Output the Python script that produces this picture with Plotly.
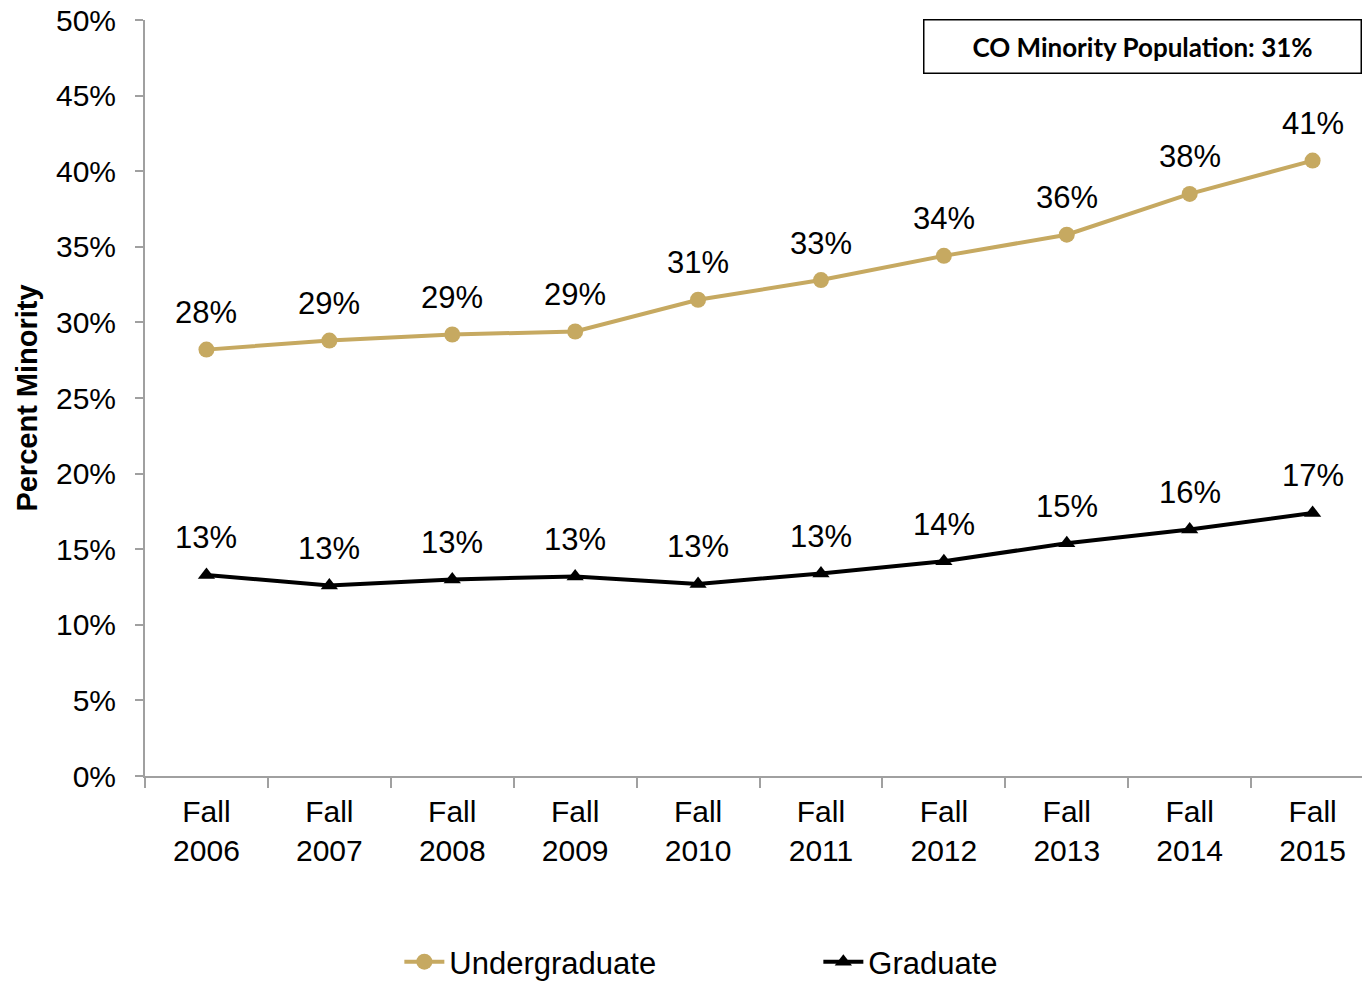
import plotly.graph_objects as go

categories = ["Fall<br>2006", "Fall<br>2007", "Fall<br>2008", "Fall<br>2009", "Fall<br>2010",
              "Fall<br>2011", "Fall<br>2012", "Fall<br>2013", "Fall<br>2014", "Fall<br>2015"]
undergrad = [28.2, 28.8, 29.2, 29.4, 31.5, 32.8, 34.4, 35.8, 38.5, 40.7]
grad = [13.3, 12.6, 13.0, 13.2, 12.7, 13.4, 14.2, 15.4, 16.3, 17.4]
undergrad_labels = ["28%", "29%", "29%", "29%", "31%", "33%", "34%", "36%", "38%", "41%"]
grad_labels = ["13%", "13%", "13%", "13%", "13%", "13%", "14%", "15%", "16%", "17%"]
y_ticks = [0, 5, 10, 15, 20, 25, 30, 35, 40, 45, 50]

GOLD = "#C6A961"
FONT = "Liberation Sans, Arial, Helvetica, sans-serif"

fig = go.Figure()
fig.add_trace(go.Scatter(x=categories, y=undergrad, mode="lines+markers", name="Undergraduate",
                         line=dict(color=GOLD, width=4),
                         marker=dict(symbol="circle", size=16, color=GOLD)))
fig.add_trace(go.Scatter(x=categories, y=grad, mode="lines+markers", name="Graduate",
                         line=dict(color="black", width=4),
                         marker=dict(symbol="triangle-up", size=15, color="black")))

for c, v, t in zip(categories, undergrad, undergrad_labels):
    fig.add_annotation(x=c, y=v, text=t, showarrow=False, yshift=37,
                       font=dict(family=FONT, size=31, color="black"))
for c, v, t in zip(categories, grad, grad_labels):
    fig.add_annotation(x=c, y=v, text=t, showarrow=False, yshift=37,
                       font=dict(family=FONT, size=31, color="black"))

fig.add_annotation(xref="paper", yref="paper", x=0.8196, y=0.9649, xanchor="center", yanchor="middle",
                   text="<b>CO Minority Population: 31%</b>", showarrow=False,
                   width=434, height=50, bordercolor="black", borderwidth=1.5, bgcolor="white",
                   font=dict(family="Lato, Noto Sans, sans-serif", size=26, color="black"))

fig.update_layout(
    width=1363, height=981,
    margin=dict(l=145, r=1, t=20, b=205, autoexpand=False),
    plot_bgcolor="white", paper_bgcolor="white",
    font=dict(family=FONT, color="black"),
    showlegend=True,
    legend=dict(orientation="h", x=0.209, xanchor="left", y=-0.246, yanchor="middle",
                font=dict(family=FONT, size=31, color="black"),
                entrywidth=364, entrywidthmode="pixels", itemwidth=40),
    xaxis=dict(type="category", range=[-0.5, 9.402], showgrid=False, showline=True,
               linecolor="#A0A0A0", linewidth=2, ticks="outside", ticklen=10,
               tickcolor="#A0A0A0", tickwidth=2, tickson="boundaries",
               ticklabelstandoff=8,
               tickfont=dict(family=FONT, size=30, color="black")),
    yaxis=dict(range=[0, 50], tickvals=y_ticks, ticktext=[f"{v}%" for v in y_ticks],
               showgrid=False, showline=True, linecolor="#A0A0A0", linewidth=2,
               ticks="outside", ticklen=8, tickcolor="#A0A0A0", tickwidth=2, zeroline=False,
               ticklabelstandoff=13,
               tickfont=dict(family=FONT, size=30, color="black")),
)
fig.update_yaxes(title=dict(text="<b>Percent Minority</b>", standoff=10,
                            font=dict(family=FONT, size=29, color="black")))

fig.write_html("out.html", config={"displayModeBar": False},
               post_script="document.body.style.margin='0';document.body.style.overflow='hidden';")
